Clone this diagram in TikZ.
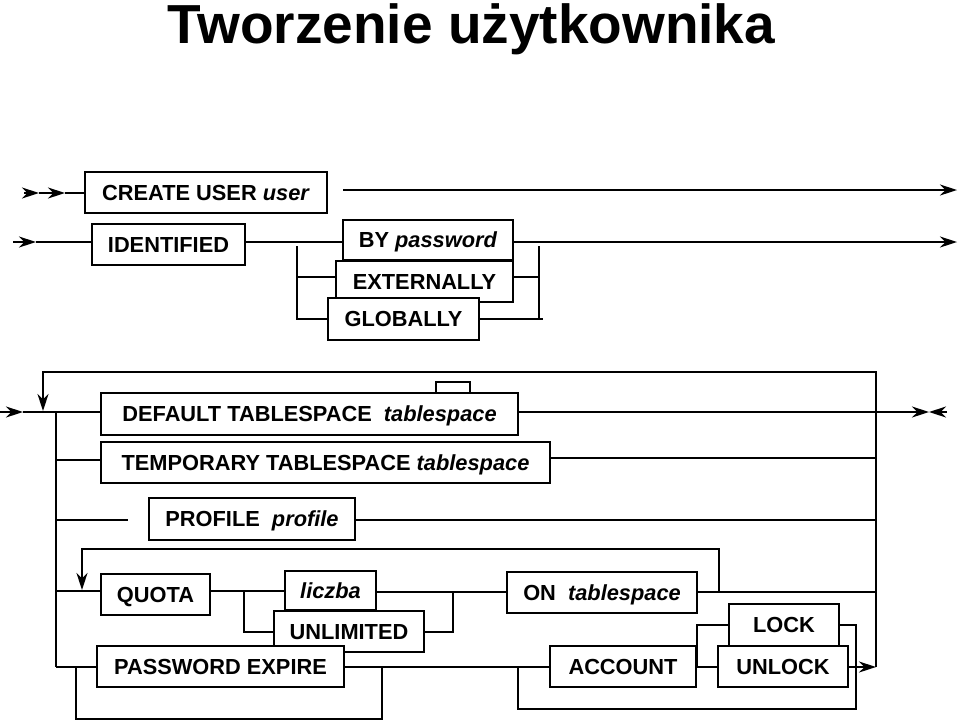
\documentclass[tikz,border=0pt]{standalone}
\usepackage{fontspec}
\setmainfont{Liberation Sans}
\usetikzlibrary{arrows.meta,positioning}
\tikzset{
  >={Stealth[length=17pt,width=11pt,inset=5.5pt]},
  box/.style={draw,line width=1.4pt,fill=white,inner sep=0pt,
    minimum height=41pt,align=center,
    font=\fontsize{21.8}{26}\selectfont\bfseries,
    text height=16pt,text depth=0.4pt},
  rail/.style={line width=1.6pt},
  headline/.style={font=\fontsize{55}{60}\selectfont\bfseries,anchor=base,inner sep=0pt},
}
\begin{document}
\begin{tikzpicture}[x=1pt,y=-1pt,rail]
        \useasboundingbox (0,0) rectangle (960,721);
        \node[headline] (title) at (471.5,43) {Tworzenie użytkownika};
        % CREATE USER
        \node[box,minimum width=242pt] (create) at (206,192.5) {CREATE USER \textit{user}};
        \draw[->] (24,193) -- (39,193);
        \draw[->] (39,193) -- (65,193);
        \draw (65,193) -- (create.west |- 0,193);
        \coordinate (r1s) at (343,190);
        \coordinate (r1e) at (957,190);
        \draw[->] (r1s) -- (r1e);
        % IDENTIFIED
        \node[box,minimum width=153pt] (ident) at (168.5,244.5) {IDENTIFIED};
        \node[box,minimum width=170pt,minimum height=40pt] (bypwd) at (428,240) {BY \textit{password}};
        \node[box,minimum width=177pt] (ext) at (424.5,281.5) {EXTERNALLY};
        \node[box,minimum width=151pt,minimum height=42pt] (glob) at (403.5,319) {GLOBALLY};
        \coordinate (r2) at (0,242);
        \draw[->] (13,242) -- (36,242);
        \draw (36,242) -- (ident.west |- r2);
        \draw (ident.east |- r2) -- (bypwd.west |- r2);
        \draw[->] (bypwd.east |- r2) -- (957,242);
        \coordinate (b2l) at (297,246);
        \coordinate (b2r) at (539,246);
        \coordinate (j2a) at (297,277);
        \coordinate (j2b) at (539,277);
        \coordinate (j2c) at (543,319);
        \draw (b2l) |- (glob.west);
        \draw (j2a) -- (j2a -| ext.west);
        \draw (ext.east |- j2b) -- (j2b);
        \draw (b2r) -- (b2r |- j2c);
        \draw (glob.east) -- (j2c);
        % options
        \node[box,minimum width=417pt,minimum height=42pt] (deflt) at (309.5,414) {DEFAULT TABLESPACE\ \ \textit{tablespace}};
        \node[box,minimum width=449pt] (temp) at (325.5,462.5) {TEMPORARY TABLESPACE \textit{tablespace}};
        \node[box,minimum width=206pt,minimum height=42pt] (prof) at (252,519) {PROFILE\ \ \textit{profile}};
        \coordinate (r3) at (0,412);
        \coordinate (lt) at (56,412);
        \coordinate (lb) at (56,667);
        \coordinate (rt) at (876,372);
        \coordinate (rb) at (876,667);
        \draw[->] (r3) -- (23,412);
        \draw (23,412) -- (deflt.west |- r3);
        \draw[->] (deflt.east |- r3) -- (929,412);
        \draw[->] (947,412) -- (929,412);
        \draw (436,393) |- (470,382) -- (470,393);
        \draw (lt) -- (lb);
        \draw[->] (rb) -- (rt) -| (43,411);
        \coordinate (j4) at (56,460);
        \coordinate (k4) at (876,458);
        \draw (j4) -- (j4 -| temp.west);
        \draw (k4 -| temp.east) -- (k4);
        \coordinate (j5) at (56,520);
        \coordinate (k5) at (876,520);
        \draw (j5) -- (128,520);
        \draw (k5 -| prof.east) -- (k5);
        % QUOTA
        \node[box,minimum width=109pt] (quota) at (155.5,594.5) {QUOTA};
        \node[box,minimum width=91pt,minimum height=39pt] (liczba) at (330.5,590.5) {\textit{liczba}};
        \node[box,minimum width=150pt] (unlim) at (349,631.5) {UNLIMITED};
        \node[box,minimum width=190pt] (onts) at (602,592.5) {ON\ \ \textit{tablespace}};
        \coordinate (j6) at (56,591);
        \coordinate (k6) at (876,592);
        \coordinate (q1) at (244,591);
        \coordinate (q2) at (244,632);
        \coordinate (q3) at (453,632);
        \coordinate (q4) at (453,592);
        \coordinate (ql) at (719,592);
        \draw (j6) -- (j6 -| quota.west);
        \draw (quota.east |- j6) -- (liczba.west |- j6);
        \draw (q1) -- (q2) -- (q2 -| unlim.west);
        \draw (unlim.east |- q3) -- (q3) -- (q4);
        \draw (liczba.east |- k6) -- (onts.west |- k6);
        \draw (onts.east |- k6) -- (k6);
        \draw[->] (ql) |- (82,549) -- (82,590);
        % PASSWORD EXPIRE, ACCOUNT
        \node[box,minimum width=247pt] (pwdexp) at (220.5,666.5) {PASSWORD EXPIRE};
        \node[box,minimum width=146pt] (acct) at (623,666.5) {ACCOUNT};
        \node[box,minimum width=110pt,minimum height=42pt] (lock) at (784,625) {LOCK};
        \node[box,minimum width=130pt] (unlock) at (783,666.5) {UNLOCK};
        \coordinate (p1) at (76,667);
        \coordinate (p2) at (382,667);
        \coordinate (a1) at (697,667);
        \coordinate (a2) at (518,667);
        \coordinate (a3) at (856,625);
        \draw (lb) -- (lb -| pwdexp.west);
        \draw (pwdexp.east |- lb) -- (acct.west |- lb);
        \draw (p1) |- (382,719) -- (p2);
        \draw (acct.east |- lb) -- (unlock.west |- lb);
        \draw (a1) |- (lock.west);
        \draw (a2) |- (856,709) -- (a3) -- (lock.east);
        \draw[->] (unlock.east |- lb) -- (rb);
      \end{tikzpicture}
\end{document}
